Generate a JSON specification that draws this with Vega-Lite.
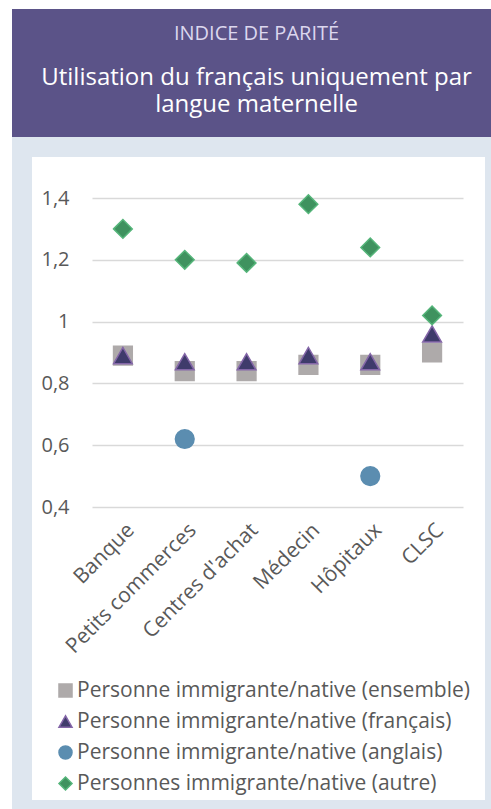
{
  "$schema": "https://vega.github.io/schema/vega-lite/v6.json",
  "background": "white",
  "padding": {"left": 12, "top": 9, "right": 0, "bottom": 0},
  "spacing": 19,
  "bounds": "flush",
  "config": {
    "font": "Open Sans",
    "concat": {"spacing": 19},
    "legend": {"orient": "none", "legendX": 33, "legendY": 661, "title": null, "labelFontSize": 21, "labelColor": "#595959", "symbolSize": 170, "rowPadding": 9, "labelOffset": 1, "labelLimit": 500}
  },
  "vconcat": [
    {
      "width": 469,
      "height": 109,
      "view": {"fill": "#5b5388", "stroke": "#5b5388", "strokeWidth": 20},
      "layer": [
        {
          "data": {"values": [{"t": "INDICE DE PARITÉ"}]},
          "mark": {"type": "text", "fontSize": 20, "color": "#dcd7ee", "baseline": "alphabetic", "align": "center", "dy": -34},
          "encoding": {"text": {"field": "t", "type": "nominal"}}
        },
        {
          "data": {"values": [{"t": "Utilisation du français uniquement par\nlangue maternelle"}]},
          "mark": {"type": "text", "fontSize": 24, "color": "white", "baseline": "alphabetic", "align": "center", "dy": 11, "lineBreak": "\n", "lineHeight": 27},
          "encoding": {"text": {"field": "t", "type": "nominal"}}
        }
      ]
    },
    {
      "width": 473,
      "height": 663,
      "view": {"fill": "white", "stroke": "#dee6ef", "strokeWidth": 20},
      "data": {
        "values": [
          {"cat": "Banque", "serie": "Personne immigrante/native (ensemble)", "v": 0.89},
          {"cat": "Petits commerces", "serie": "Personne immigrante/native (ensemble)", "v": 0.84},
          {"cat": "Centres d'achat", "serie": "Personne immigrante/native (ensemble)", "v": 0.84},
          {"cat": "Médecin", "serie": "Personne immigrante/native (ensemble)", "v": 0.86},
          {"cat": "Hôpitaux", "serie": "Personne immigrante/native (ensemble)", "v": 0.86},
          {"cat": "CLSC", "serie": "Personne immigrante/native (ensemble)", "v": 0.90},
          {"cat": "Banque", "serie": "Personne immigrante/native (français)", "v": 0.89},
          {"cat": "Petits commerces", "serie": "Personne immigrante/native (français)", "v": 0.87},
          {"cat": "Centres d'achat", "serie": "Personne immigrante/native (français)", "v": 0.87},
          {"cat": "Médecin", "serie": "Personne immigrante/native (français)", "v": 0.89},
          {"cat": "Hôpitaux", "serie": "Personne immigrante/native (français)", "v": 0.87},
          {"cat": "CLSC", "serie": "Personne immigrante/native (français)", "v": 0.96},
          {"cat": "Petits commerces", "serie": "Personne immigrante/native (anglais)", "v": 0.62},
          {"cat": "Hôpitaux", "serie": "Personne immigrante/native (anglais)", "v": 0.50},
          {"cat": "Banque", "serie": "Personnes immigrante/native (autre)", "v": 1.30},
          {"cat": "Petits commerces", "serie": "Personnes immigrante/native (autre)", "v": 1.20},
          {"cat": "Centres d'achat", "serie": "Personnes immigrante/native (autre)", "v": 1.19},
          {"cat": "Médecin", "serie": "Personnes immigrante/native (autre)", "v": 1.38},
          {"cat": "Hôpitaux", "serie": "Personnes immigrante/native (autre)", "v": 1.24},
          {"cat": "CLSC", "serie": "Personnes immigrante/native (autre)", "v": 1.02}
        ]
      },
      "mark": {"type": "point", "filled": true, "strokeWidth": 1.5, "opacity": 1, "size": 350},
      "encoding": {
        "x": {
          "field": "cat", "type": "nominal", "sort": null,
          "scale": {"range": [70, 441]},
          "axis": {"orient": "bottom", "offset": -303, "labelAngle": -45, "labelFontSize": 21, "labelColor": "#595959", "domain": false, "ticks": false, "labelPadding": 12, "title": null, "grid": false}
        },
        "y": {
          "field": "v", "type": "quantitative",
          "scale": {"domain": [0.4, 1.4], "range": [360, 51], "nice": false, "zero": false},
          "axis": {"values": [0.4, 0.6, 0.8, 1, 1.2, 1.4], "format": "~g", "labelExpr": "replace(datum.label, '.', ',')", "grid": true, "gridColor": "#d9d9d9", "gridWidth": 1.5, "domain": false, "ticks": false, "offset": -51, "labelPadding": 4, "labelFontSize": 20, "labelColor": "#595959", "title": null}
        },
        "shape": {
          "field": "serie", "type": "nominal",
          "scale": {"domain": ["Personne immigrante/native (ensemble)", "Personne immigrante/native (français)", "Personne immigrante/native (anglais)", "Personnes immigrante/native (autre)"], "range": ["square", "triangle-up", "circle", "diamond"]}
        },
        "fill": {
          "field": "serie", "type": "nominal",
          "scale": {"domain": ["Personne immigrante/native (ensemble)", "Personne immigrante/native (français)", "Personne immigrante/native (anglais)", "Personnes immigrante/native (autre)"], "range": ["#aeaaaa", "#3f3b6b", "#5b8db0", "#3f925f"]}
        },
        "stroke": {
          "field": "serie", "type": "nominal",
          "scale": {"domain": ["Personne immigrante/native (ensemble)", "Personne immigrante/native (français)", "Personne immigrante/native (anglais)", "Personnes immigrante/native (autre)"], "range": ["#aeaaaa", "#8466a8", "#5b8db0", "#55b57a"]}
        }
      }
    }
  ]
}
